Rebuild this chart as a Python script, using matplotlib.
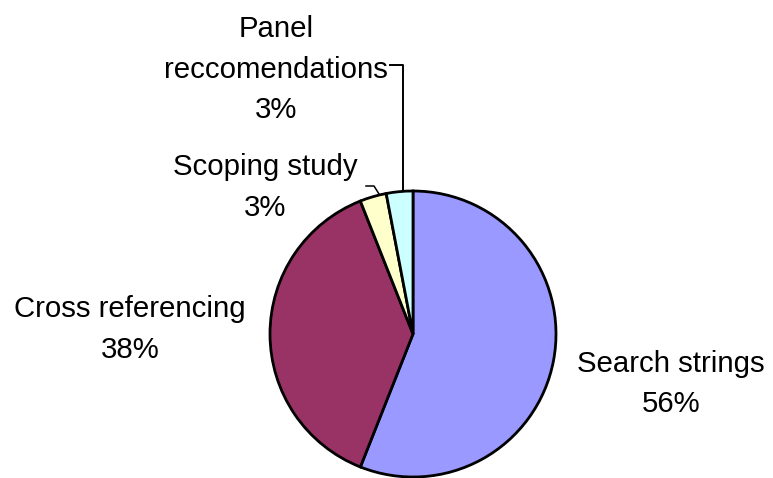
import matplotlib
matplotlib.use("Agg")
import matplotlib.pyplot as plt

labels = ["Search strings", "Cross referencing", "Scoping study", "Panel\nreccomendations"]
shares = [56, 38, 3, 3]
colors = ["#9999FF", "#993366", "#FFFFCC", "#CCFFFF"]

W, H = 773, 478
fig = plt.figure(figsize=(W / 100, H / 100), dpi=100)
ax = fig.add_axes([0, 0, 1, 1])

# pie laid out in pixel units, y measured from bottom
ax.pie(shares, colors=colors, startangle=90, counterclock=False,
       center=(413, H - 334), radius=143,
       wedgeprops=dict(edgecolor="black", linewidth=2.0))
ax.set_xlim(0, W); ax.set_ylim(0, H); ax.set_aspect("equal"); ax.axis("off")

# label block: (x centre, y of first line) in pixels from top
lab_pos = [(671, 364), (130, 309), (265, 167), (276, 29)]
fnt = dict(family=["Liberation Sans", "DejaVu Sans"], fontsize=21.2, ha="center", va="center", color="black")
step = 40.5
for lab, v, (x, y) in zip(labels, shares, lab_pos):
    lines = lab.split("\n") + [f"{v}%"]
    for i, t in enumerate(lines):
        ax.text(x, H - (y + i * step), t, **fnt)

# leader lines for the two thin slices
ax.plot([390, 403, 403], [H - 65, H - 65, H - 190], color="black", lw=1.4)
ax.plot([366, 374, 379], [H - 186, H - 186, H - 194], color="black", lw=1.1)

fig.savefig("out.png", dpi=100)
